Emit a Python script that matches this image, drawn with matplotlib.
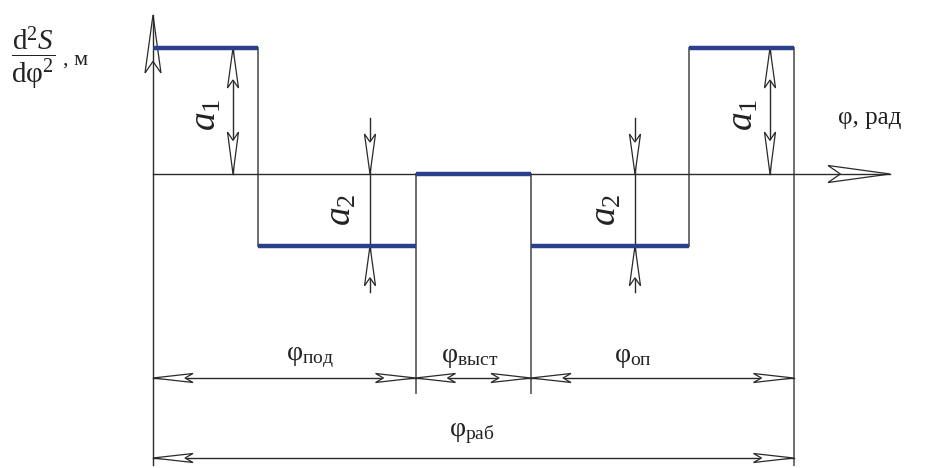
import matplotlib
matplotlib.use("Agg")
import matplotlib.pyplot as plt
from matplotlib.patches import Polygon

plt.rcParams['font.family'] = ['Liberation Serif', 'DejaVu Serif']
plt.rcParams['mathtext.fontset'] = 'custom'
plt.rcParams['mathtext.rm'] = 'Liberation Serif'
plt.rcParams['mathtext.it'] = 'Liberation Serif:italic'

# данные: границы фаз (рад, условно) и уровни второй производной
phi_bounds = [0.0, 1.0, 2.5, 3.6, 5.1, 6.1]
a1 = 1.0
a2 = 0.57
levels = [a1, -a2, 0.0, -a2, a1]
phase_labels = [r'$\mathrm{φ}_{\mathrm{под}}$', r'$\mathrm{φ}_{\mathrm{выст}}$',
                r'$\mathrm{φ}_{\mathrm{оп}}$']
total_label = r'$\mathrm{φ}_{\mathrm{раб}}$'

# пиксельный масштаб (для стрелок)
SX, SY = 105.0, 126.0
X0, Y0 = 153.0, 174.0
W, H = 925, 468

fig = plt.figure(figsize=(W / 100, H / 100), dpi=100)
ax = fig.add_axes([0, 0, 1, 1])
ax.set_xlim(-X0 / SX, (W - X0) / SX)
ax.set_ylim(-(H - Y0) / SY, Y0 / SY)
ax.axis('off')

AX_C = '#2a2a2a'
GR_C = '#6e6e6e'
BL_C = '#2b3f8c'
TX_C = '#222222'


def px(v):
    return v / SX


def py(v):
    return v / SY


def head(x, y, d, length=40, width=10, lw=0.9):
    """Полая стрелка, острие в (x, y)"""
    L, hw = length, width / 2
    if d == 'up':
        pts = [(x, y), (x - px(hw), y - py(L)), (x, y - py(L * 0.8)), (x + px(hw), y - py(L))]
    elif d == 'down':
        pts = [(x, y), (x - px(hw), y + py(L)), (x, y + py(L * 0.8)), (x + px(hw), y + py(L))]
    elif d == 'left':
        pts = [(x, y), (x + px(L), y + py(hw)), (x + px(L * 0.8), y), (x + px(L), y - py(hw))]
    else:
        pts = [(x, y), (x - px(L), y + py(hw)), (x - px(L * 0.8), y), (x - px(L), y - py(hw))]
    ax.add_patch(Polygon(pts, closed=True, facecolor='white', edgecolor=AX_C,
                         lw=lw, zorder=4))


ymin, ymax = ax.get_ylim()
xmin, xmax = ax.get_xlim()

# оси
ax.plot([0, 0], [ymin + py(3), ymax - py(15)], color=AX_C, lw=1.0, zorder=5)
ax.plot([0, (890 - X0) / SX], [0, 0], color=AX_C, lw=1.0, zorder=5)
head(0, ymax - py(15), 'up', length=58, width=16)
head((890 - X0) / SX, 0, 'right', length=62, width=17)

# ступенчатый график
for i, lv in enumerate(levels):
    ax.plot([phi_bounds[i], phi_bounds[i + 1]], [lv, lv], color=BL_C, lw=3.2,
            solid_capstyle='butt', zorder=6)
for i in range(1, len(levels)):
    ax.plot([phi_bounds[i]] * 2, [levels[i - 1], levels[i]], color=GR_C, lw=1.4, zorder=3)

# выносные линии
dim_y = -(378 - Y0) / SY
tot_y = -(458 - Y0) / SY
ext_y = -(393 - Y0) / SY
for xb in phi_bounds[2:4]:
    ax.plot([xb, xb], [0, ext_y], color=GR_C, lw=1.4, zorder=3)
ax.plot([phi_bounds[-1]] * 2, [a1, ymin + py(3)], color=GR_C, lw=1.4, zorder=3)

# размеры фаз
groups = [(phi_bounds[0], phi_bounds[2]), (phi_bounds[2], phi_bounds[3]),
          (phi_bounds[3], phi_bounds[5])]
label_px = [310, 470, 633]
for (xa, xb), lab, lx in zip(groups, phase_labels, label_px):
    ax.plot([xa, xb], [dim_y, dim_y], color=AX_C, lw=1.0, zorder=3)
    head(xa, dim_y, 'left', length=40, width=9)
    head(xb, dim_y, 'right', length=40, width=9)
    ax.text((lx - X0) / SX, dim_y + py(21), lab, fontsize=20, ha='center',
            va='center', color=TX_C)

ax.plot([phi_bounds[0], phi_bounds[-1]], [tot_y, tot_y], color=AX_C, lw=1.0, zorder=3)
head(phi_bounds[0], tot_y, 'left', length=40, width=9)
head(phi_bounds[-1], tot_y, 'right', length=40, width=9)
ax.text((472 - X0) / SX, tot_y + py(24), total_label, fontsize=20, ha='center',
        va='center', color=TX_C)

# размеры a1
for xd, xt in [((233 - X0) / SX, (206 - X0) / SX), ((770 - X0) / SX, (743 - X0) / SX)]:
    ax.plot([xd, xd], [0, a1], color=AX_C, lw=1.0, zorder=3)
    head(xd, a1, 'up', length=40, width=11)
    head(xd, 0, 'down', length=42, width=11)
    ax.text(xt, a1 / 2 - py(4), r'$a_1$', fontsize=27, rotation=90,
            ha='center', va='center', color=TX_C)

# размеры a2
for xd, xt in [((370 - X0) / SX, (341 - X0) / SX), ((635 - X0) / SX, (606 - X0) / SX)]:
    ax.plot([xd, xd], [py(56), -a2 - py(46)], color=AX_C, lw=1.0, zorder=3)
    head(xd, 0, 'down', length=40, width=11)
    head(xd, -a2, 'up', length=40, width=11)
    ax.text(xt, -a2 / 2, r'$a_2$', fontsize=27, rotation=90,
            ha='center', va='center', color=TX_C)

# подписи осей
ax.text((11 - X0) / SX, (174 - 58) / SY,
        r'$\dfrac{\mathrm{d}^2 S}{\mathrm{d}\mathrm{φ}^2}$', fontsize=21,
        ha='left', va='center', color=TX_C)
ax.text((63 - X0) / SX, (174 - 60) / SY, ', м', fontsize=16,
        ha='left', va='center', color=TX_C)
ax.text((838 - X0) / SX, (174 - 118) / SY, 'φ, рад', fontsize=18,
        ha='left', va='center', color=TX_C)

fig.savefig('out.png', dpi=100)
